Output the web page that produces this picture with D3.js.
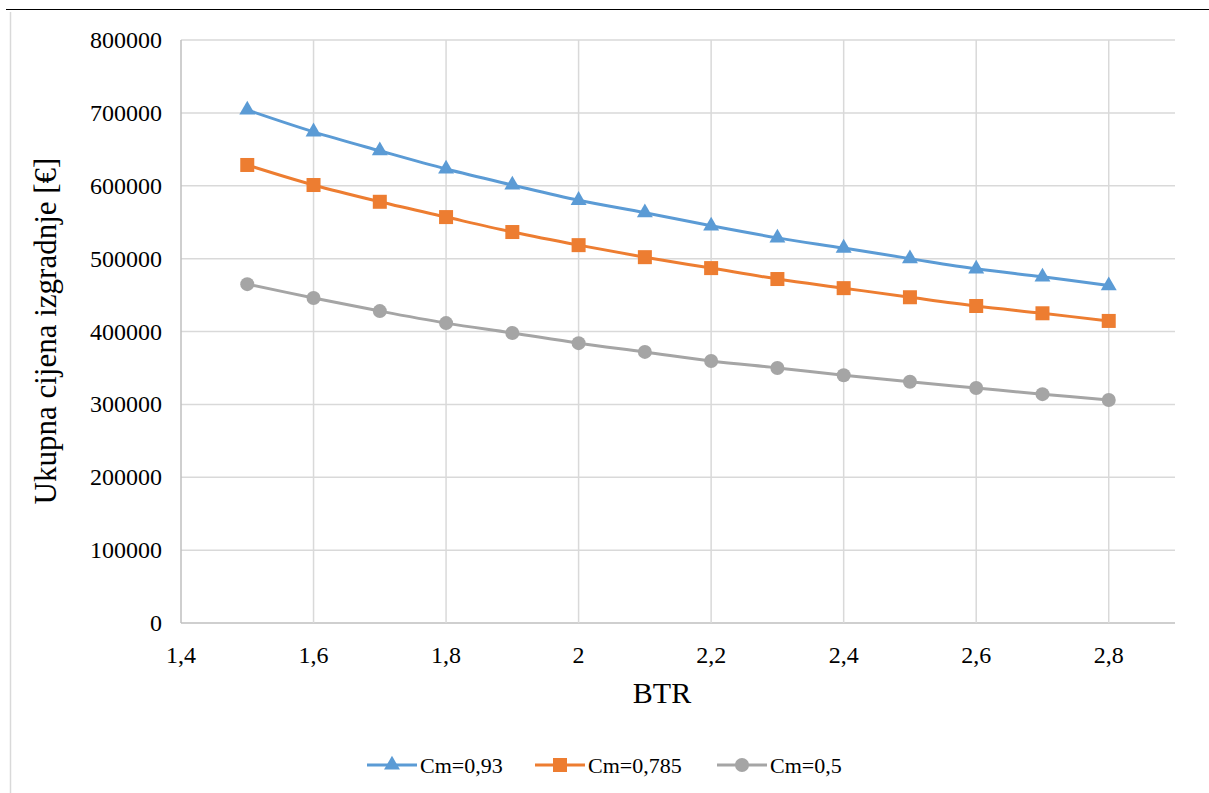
<!DOCTYPE html>
<html><head><meta charset="utf-8">
<script src="https://cdn.jsdelivr.net/npm/d3@7"></script>
<style>html,body{margin:0;padding:0;background:#fff;}</style>
</head><body>
<svg id="c" width="1209" height="793" font-family="Liberation Serif"></svg>
<script>
const btr = [1.5,1.6,1.7,1.8,1.9,2.0,2.1,2.2,2.3,2.4,2.5,2.6,2.7,2.8];
const cm093 = [704000,674000,648000,623000,601000,580000,563000,545000,528500,514500,500000,486000,475000,463000];
const cm0785 = [628500,601000,578000,557000,536500,518500,502000,487000,472000,459500,447000,435000,425000,414500];
const cm05 = [465000,446000,428000,411500,398000,384000,372000,359500,350000,340000,331000,322500,314000,306000];
const seriesNames = ["Cm=0,93","Cm=0,785","Cm=0,5"];
const seriesColors = ["#5B9BD5","#ED7D31","#A5A5A5"];
const seriesShapes = ["triangle","square","circle"];
const xTicks = [1.4,1.6,1.8,2.0,2.2,2.4,2.6,2.8];
const yTicks = [0,100000,200000,300000,400000,500000,600000,700000,800000];

const svg = d3.select("#c");
function txt(xp, yp, s, size, anchor, rot){
  const t = svg.append("text").attr("x",0).attr("y",0).attr("text-anchor",anchor||"start")
    .attr("transform",`translate(${xp},${yp})${rot?` rotate(${rot})`:""}`)
    .attr("font-family","Liberation Serif").attr("font-size",size)
    .style("font",`${size}px "Liberation Serif", "Times New Roman", serif`).attr("fill","#000");
  t.append("tspan").attr("font-family","Liberation Serif")
    .style("font-family",'"Liberation Serif"').text(s);
  return t;
}

svg.append("line").attr("x1",6).attr("x2",1209).attr("y1",9.5).attr("y2",9.5).attr("stroke","#000").attr("stroke-width",1.2);
svg.append("line").attr("x1",10.5).attr("x2",10.5).attr("y1",12).attr("y2",793).attr("stroke","#d9d9d9").attr("stroke-width",1.5);

const L=181, R=1175, T=40, B=623;
const x = d3.scaleLinear().domain([1.4,2.9]).range([L,R]);
const y = d3.scaleLinear().domain([0,800000]).range([B,T]);

const g = svg.append("g");
g.selectAll(".hg").data(yTicks).join("line")
 .attr("x1",L).attr("x2",R).attr("y1",d=>y(d)).attr("y2",d=>y(d))
 .attr("stroke",d=>d===0?"#bfbfbf":"#d9d9d9").attr("stroke-width",1.5);
g.selectAll(".vg").data(xTicks).join("line")
 .attr("x1",d=>x(d)).attr("x2",d=>x(d)).attr("y1",T).attr("y2",B)
 .attr("stroke",d=>d===1.4?"#bfbfbf":"#d9d9d9").attr("stroke-width",1.5);

const yFmt = d3.format("d");
yTicks.forEach(t=>txt(L-19, y(t)+8, yFmt(t), 24, "end"));
const xFmt = d=>String(+d.toFixed(1)).replace(".",",");
xTicks.forEach(t=>txt(x(t), B+40, xFmt(t), 24, "middle"));

txt(662, 703, "BTR", 30, "middle");
txt(56, 331, "Ukupna cijena izgradnje [€]", 31, "middle", -90);

const allSeries = [cm093,cm0785,cm05];
const line = d3.line().x((d,i)=>x(btr[i])).y(d=>y(d)).curve(d3.curveCatmullRom.alpha(0.5));

function marker(sel, shape, color){
  if(shape==="triangle") sel.append("path").attr("d",d3.symbol(d3.symbolTriangle,110)()).attr("fill",color);
  else if(shape==="square") sel.append("rect").attr("x",-7).attr("y",-7).attr("width",14).attr("height",14).attr("fill",color);
  else sel.append("circle").attr("r",7).attr("fill",color);
}

allSeries.forEach((vals,si)=>{
  g.append("path").datum(vals).attr("d",line).attr("fill","none")
   .attr("stroke",seriesColors[si]).attr("stroke-width",3).attr("stroke-linecap","round");
  vals.forEach((v,i)=>{
    const m = g.append("g").attr("transform",`translate(${x(btr[i])},${y(v)})`);
    marker(m, seriesShapes[si], seriesColors[si]);
  });
});

const legX = [367,535,717];
seriesNames.forEach((n,i)=>{
  const lg = svg.append("g").attr("transform",`translate(${legX[i]},765)`);
  lg.append("line").attr("x1",0).attr("x2",50).attr("y1",0).attr("y2",0)
    .attr("stroke",seriesColors[i]).attr("stroke-width",3);
  const m = lg.append("g").attr("transform","translate(25,0)");
  marker(m, seriesShapes[i], seriesColors[i]);
  txt(legX[i]+53, 773, n, 22, "start");
});
</script>
</body></html>
